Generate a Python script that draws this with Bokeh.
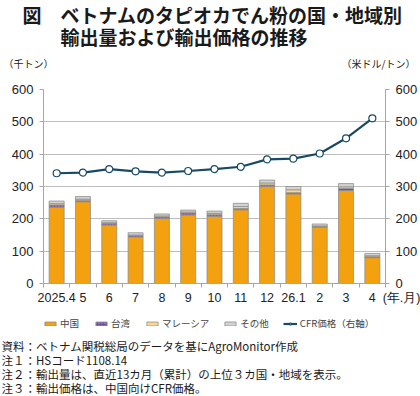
from bokeh.plotting import figure
from bokeh.layouts import column
from bokeh.models import Range1d, LinearAxis, FixedTicker, Title, Legend, LegendItem
from bokeh.embed import file_html
from bokeh.resources import INLINE
import numpy as np

# Monthly export volume by destination (thousand tonnes) and CFR price to China (USD/t)
months = ["2025.4", "5", "6", "7", "8", "9", "10", "11", "12", "26.1", "2", "3", "4"]
china = [236, 253, 181, 144, 201, 212, 208, 228, 300, 277, 174, 288, 80]
taiwan = [7, 4, 5, 4, 5, 6, 5, 4, 5, 4, 3, 6, 3]
malaysia = [4, 4, 2, 2, 3, 3, 4, 6, 6, 9, 1, 5, 3]
others = [8, 8, 6, 7, 6, 6, 7, 10, 9, 10, 6, 10, 7]
cfr_price = [341, 343, 354, 347, 343, 348, 354, 361, 384, 386, 402, 449, 511]
y_ticks = [0, 100, 200, 300, 400, 500, 600]

series = [
    ("中国", china, "#F4A10F", None),
    ("台湾", taiwan, "#6E4FA3", "dot"),
    ("マレーシア", malaysia, "#FFD58E", None),
    ("その他", others, "#D3D3D3", None),
]
LINE_COLOR = "#184A66"
GREY = "#A6A6A6"
INK = "#1A1A1A"

JP = "Noto Sans CJK JP"
NUM = "Liberation Sans"
W, FL, FR = 420, 43, 34
MAIN_H, KEY_H = 308, 88

n = len(months)
x = np.arange(n)


def base_figure(height, **kw):
    f = figure(width=W, height=height, output_backend="svg", toolbar_location=None,
               x_range=Range1d(-0.5, n - 0.5), y_range=Range1d(0, 600),
               min_border_left=FL, min_border_right=FR, outline_line_color=None,
               title_location=None, x_axis_location=None, y_axis_location=None, **kw)
    f.extra_y_ranges = {"price": Range1d(0, 600)}
    return f


def draw_series(f, visible=True):
    """Stacked volume bars plus the price line; returns legend entries."""
    items = []
    bottom = np.zeros(n)
    for name, vals, color, hatch in series:
        vals = np.array(vals, dtype=float)
        kw = dict(hatch_pattern=hatch, hatch_color="#B9A2DA", hatch_scale=3) if hatch else {}
        r = f.vbar(x=x, bottom=bottom, top=bottom + vals, width=0.57, fill_color=color,
                   line_color="#8F8F8F", line_width=0.8, visible=visible, **kw)
        items.append(LegendItem(label=name, renderers=[r]))
        bottom = bottom + vals
    ln = f.line(x, cfr_price, line_color=LINE_COLOR, line_width=2.2,
                y_range_name="price", visible=visible)
    sc = f.scatter(x, cfr_price, size=7, fill_color="white", line_color=LINE_COLOR,
                   line_width=1.2, y_range_name="price", visible=visible)
    items.append(LegendItem(label="CFR価格（右軸）", renderers=[ln, sc]))
    return items


def title(text, size, offset, standoff, bold=False, valign="middle"):
    return Title(text=text, text_font=JP, text_font_size=size, align="left",
                 offset=offset, standoff=standoff, vertical_align=valign,
                 text_color=INK, text_font_style="bold" if bold else "normal")


# ================= main chart =================
p = base_figure(MAIN_H, min_border_top=86, min_border_bottom=25)
draw_series(p)

yl = LinearAxis(ticker=FixedTicker(ticks=y_ticks))
yr = LinearAxis(y_range_name="price", ticker=FixedTicker(ticks=y_ticks))
xa = LinearAxis(ticker=FixedTicker(ticks=list(x) + [n - 0.5],
                                   minor_ticks=list(np.arange(n + 1) - 0.5)))
overrides = {int(i): m for i, m in zip(x, months)}
overrides[n - 0.5] = "\u3000\u3000\u2002(年.月)"
xa.major_label_overrides = overrides
for ax in (yl, yr, xa):
    ax.axis_line_color = GREY
    ax.major_tick_line_color = GREY
    ax.minor_tick_line_color = GREY
    ax.major_tick_in = 0
    ax.major_tick_out = 4
    ax.minor_tick_in = 0
    ax.minor_tick_out = 0
    ax.major_label_text_font = NUM
    ax.major_label_text_color = "#222222"
    ax.major_label_text_font_size = "13px"
    ax.major_label_standoff = 6
xa.major_tick_out = 0
xa.minor_tick_out = 4
xa.major_label_text_font_size = "12.5px"
xa.major_label_standoff = 3
p.add_layout(yl, "left")
p.add_layout(yr, "right")
p.add_layout(xa, "below")

# unit captions above the two value axes
units = LinearAxis(ticker=FixedTicker(ticks=[-0.5, n - 0.5]))
units.major_label_overrides = {-0.5: "（千トン）\u3000\u3000\u3000\u2002",
                               n - 0.5: "（米ドル/トン）\u3000"}
units.axis_line_color = None
units.major_tick_line_color = None
units.minor_tick_line_color = None
units.major_tick_out = 0
units.major_tick_in = 0
units.major_label_standoff = 19
units.major_label_text_font = JP
units.major_label_text_font_size = "10px"
units.major_label_text_color = INK
p.add_layout(units, "above")

# two-line heading, second line indented under the first line's text
heading = title("図\u3000ベトナムのタピオカでん粉の国・地域別\n"
                "\u3000\u3000輸出量および輸出価格の推移",
                "19px", -21, 1, bold=True, valign="top")
try:
    heading.text_line_height = 0.8
except AttributeError:
    pass
p.add_layout(heading, "above")

p.xgrid.grid_line_color = None
p.ygrid.grid_line_color = "#BDBDBD"
p.ygrid.grid_line_width = 1.2
p.ygrid.ticker = FixedTicker(ticks=y_ticks[1:])

# ================= legend and notes =================
key = base_figure(KEY_H, min_border_top=0, min_border_bottom=58)
key.grid.visible = False
proxies = draw_series(key, visible=False)
leg = Legend(items=proxies, orientation="horizontal", location="left",
             glyph_width=14, glyph_height=5, label_text_font=JP,
             label_text_font_size="9.5px", label_standoff=3, spacing=14,
             padding=1, margin=0, border_line_color=None, background_fill_alpha=0,
             label_height=14)
key.add_layout(leg, "center")

notes = [
    "資料：ベトナム関税総局のデータを基にAgroMonitor作成",
    "注１：HSコード1108.14",
    "注２：輸出量は、直近13カ月（累計）の上位３カ国・地域を表示。",
    "注３：輸出価格は、中国向けCFR価格。",
]
for s in notes:
    key.add_layout(title(s, "11.5px", -42, -3.8), "below")

layout = column(p, key, spacing=0)
open("out.html", "w").write(file_html(layout, INLINE))
